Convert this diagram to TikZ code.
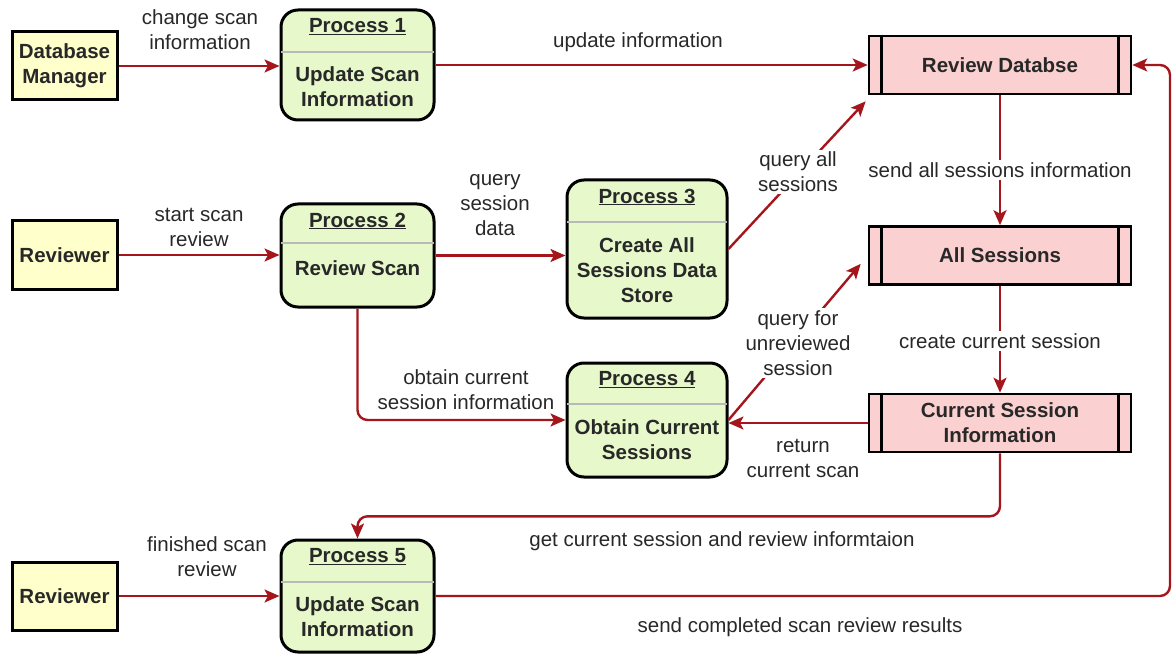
\documentclass[tikz,border=0pt]{standalone}
\usepackage{fontspec}
\setmainfont{Liberation Sans}
\usetikzlibrary{arrows.meta,fit,calc}
\definecolor{arrowred}{RGB}{165,22,28}
\definecolor{procgreen}{RGB}{231,248,203}
\definecolor{entyellow}{RGB}{255,255,204}
\definecolor{storepink}{RGB}{250,208,208}
\definecolor{divgray}{RGB}{185,185,185}
\definecolor{labelgray}{RGB}{40,40,40}
\tikzset{
  proc/.style={draw=black, line width=3pt, fill=procgreen, rounded corners=17pt, inner sep=0pt},
  ptitle/.style={font=\fontsize{20.5}{25}\selectfont\bfseries, text=labelgray, inner sep=0pt},
  pbody/.style={font=\fontsize{20.5}{25}\selectfont\bfseries, text=labelgray, align=center, inner sep=0pt},
  divider/.style={draw=divgray, line width=1.2pt},
  entity/.style={draw=black, line width=3pt, fill=entyellow, minimum width=105pt, minimum height=68pt, align=center, font=\fontsize{20.5}{25}\selectfont\bfseries, text=labelgray, inner sep=0pt},
  store/.style={draw=black, line width=2.6pt, fill=storepink, minimum width=262pt, minimum height=58pt, align=center, font=\fontsize{20.5}{25}\selectfont\bfseries, text=labelgray, inner sep=0pt},
  bar/.style={draw=black, line width=2.6pt},
  flow/.style={draw=arrowred, line width=2.4pt, rounded corners=10pt, -{Stealth[length=15pt,width=13pt,inset=3.5pt]}},
  lbl/.style={font=\fontsize{20.5}{25}\selectfont, text=labelgray, align=center, inner sep=2pt},
  lblw/.style={lbl, fill=white}
}
\begin{document}
\begin{tikzpicture}[x=1pt,y=-1pt]
\useasboundingbox (0,0) rectangle (1175,655);
% entities
\node[entity] (dbm) at (64.5,66) {Database\\Manager};
\node[entity] (rv1) at (64.5,255) {Reviewer};
\node[entity] (rv2) at (64.5,596) {Reviewer};
% processes
\node[proc, fit={(281,10) (434,120)}] (p1) {};
\draw[divider] (281,52) -- (434,52);
\node[ptitle] (p1t) at (357.5,27) {\underline{Process 1}};
\node[pbody] (p1b) at (357.5,87) {Update Scan\\Information};
\node[proc, fit={(281,204) (434,307)}] (p2) {};
\draw[divider] (281,243) -- (434,243);
\node[ptitle] (p2t) at (357.5,221) {\underline{Process 2}};
\node[pbody] (p2b) at (357.5,268) {Review Scan};
\node[proc, fit={(567,180) (727,318)}] (p3) {};
\draw[divider] (567,222) -- (727,222);
\node[ptitle] (p3t) at (647,197) {\underline{Process 3}};
\node[pbody] (p3b) at (647,270) {Create All\\Sessions Data\\Store};
\node[proc, fit={(567,363) (727,477)}] (p4) {};
\draw[divider] (567,404) -- (727,404);
\node[ptitle] (p4t) at (647,380) {\underline{Process 4}};
\node[pbody] (p4b) at (647,440) {Obtain Current\\Sessions};
\node[proc, fit={(281,540) (434,652)}] (p5) {};
\draw[divider] (281,582) -- (434,582);
\node[ptitle] (p5t) at (357.5,557) {\underline{Process 5}};
\node[pbody] (p5b) at (357.5,617) {Update Scan\\Information};
% data stores
\node[store] (rd) at (1000,65) {Review Databse};
\node[store] (as) at (1000,255.5) {All Sessions};
\node[store] (csi) at (1000,423) {Current Session\\Information};
\foreach \s in {rd,as,csi}{
  \draw[bar] ([xshift=14pt]\s.north west) -- ([xshift=14pt]\s.south west);
  \draw[bar] ([xshift=-14pt]\s.north east) -- ([xshift=-14pt]\s.south east);
}
% coordinates
\coordinate (rdtip) at ([xshift=-2pt,yshift=-6pt]rd.south west);
\coordinate (astip) at ([xshift=-7pt,yshift=22pt]as.south west);
\coordinate (rc) at (1170,596);
% flows
\draw[flow] (dbm.east) -- (dbm.east -| p1.west);
\draw[flow] (p1.east) -- (rd.west);
\draw[flow] (rv1.east) -- (rv1.east -| p2.west);
\draw[flow] (p2.east) -- (p2.east -| p3.west);
\draw[flow] (p3.east) -- (rdtip);
\draw[flow] (rd.south) -- (as.north);
\draw[flow] (as.south) -- (csi.north);
\draw[flow] (p4.east) -- (astip);
\draw[flow] (csi.west) -- (csi.west -| p4.east);
\draw[flow] (p2.south) |- (p4.west);
\draw[flow] (csi.south) -- ++(0,63) -| (p5.north);
\draw[flow] (rv2.east) -- (rv2.east -| p5.west);
\draw[flow] (p5.east) -- (rc) |- (rd.east);
% labels
\node[lbl] (l1) at (200,30) {change scan\\information};
\node[lbl] (l2) at (638,42) {update information};
\node[lbl] (l3) at (199,227) {start scan\\review};
\node[lbl] (l4) at (495,205) {query\\session\\data};
\node[lblw] (l5) at (798,172) {query all\\sessions};
\node[lblw] (l6) at (1000,170) {send all sessions information};
\node[lblw] (l7) at (1000,341) {create current session};
\node[lblw] (l8) at (798,343) {query for\\unreviewed\\session};
\node[lbl] (l9) at (466,390) {obtain current\\session information};
\node[lbl] (l10) at (803,458) {return\\current scan};
\node[lbl] (l11) at (722,541) {get current session and review informtaion};
\node[lbl] (l12) at (207,557) {finished scan\\review};
\node[lbl] (l13) at (800,627) {send completed scan review results};
\end{tikzpicture}
\end{document}
